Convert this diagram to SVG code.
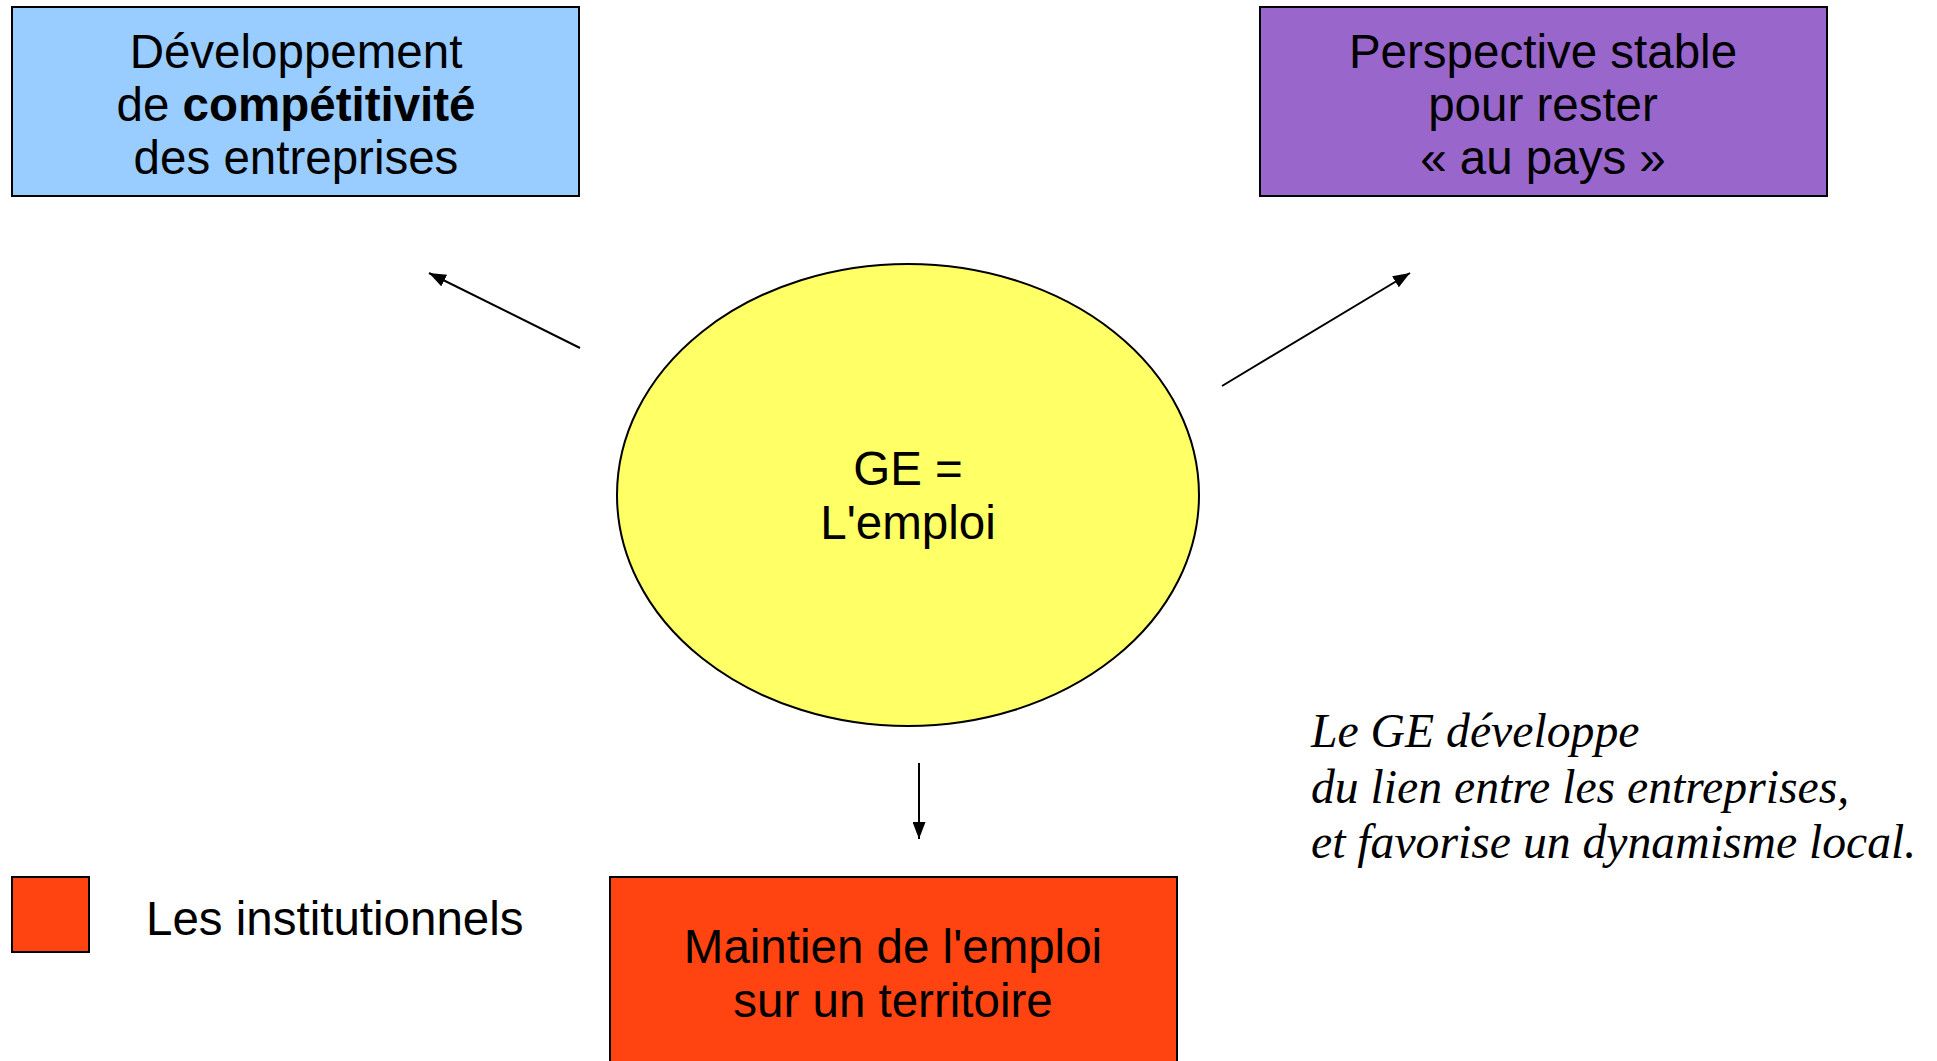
<svg xmlns="http://www.w3.org/2000/svg" width="1937" height="1061" viewBox="0 0 1937 1061">
<style>
.box{stroke:#000;stroke-width:2}
.t{font-family:"Liberation Sans",Arial,sans-serif;font-size:47.5px;fill:#000;text-anchor:middle}
.note{font-family:"Liberation Serif","Times New Roman",serif;font-style:italic;font-size:47.7px;fill:#000}
.conn{stroke:#000;stroke-width:2;fill:none;marker-end:url(#ah)}
</style>
<defs>
<marker id="ah" viewBox="0 0 10 10" refX="10" refY="5" markerWidth="17" markerHeight="13" preserveAspectRatio="none" markerUnits="userSpaceOnUse" orient="auto">
<path d="M0,0 L10,5 L0,10 z" fill="#000"/>
</marker>
</defs>
<rect width="1937" height="1061" fill="#fff"/>
<g id="connectors">
<line class="conn" x1="580" y1="348" x2="429" y2="273"/>
<line class="conn" x1="1222" y1="386" x2="1410" y2="273"/>
<line class="conn" x1="919" y1="763" x2="919" y2="839"/>
</g>
<g id="node-competitivite">
<rect class="box" x="12" y="7" width="567" height="189" fill="#99ccff"/>
<text class="t" x="296" y="68">Développement</text>
<text class="t" x="296" y="121">de <tspan font-weight="bold">compétitivité</tspan></text>
<text class="t" x="296" y="174">des entreprises</text>
</g>
<g id="node-perspective">
<rect class="box" x="1260" y="7" width="567" height="189" fill="#9966cc"/>
<text class="t" x="1543" y="68">Perspective stable</text>
<text class="t" x="1543" y="121">pour rester</text>
<text class="t" x="1543" y="174">« au pays »</text>
</g>
<g id="node-ge">
<ellipse class="box" cx="908" cy="495" rx="291" ry="231" fill="#ffff66"/>
<text class="t" x="908" y="485">GE =</text>
<text class="t" x="908" y="539">L'emploi</text>
</g>
<g id="node-maintien">
<rect class="box" x="610" y="877" width="567" height="200" fill="#ff4411"/>
<text class="t" x="893" y="963">Maintien de l'emploi</text>
<text class="t" x="893" y="1017">sur un territoire</text>
</g>
<g id="legend">
<rect class="box" x="12" y="877" width="77" height="75" fill="#ff4411"/>
<text class="t" x="146" y="935" style="text-anchor:start">Les institutionnels</text>
</g>
<g id="note">
<text class="note" x="1311" y="747">Le GE développe</text>
<text class="note" x="1311" y="803">du lien entre les entreprises,</text>
<text class="note" x="1311" y="858">et favorise un dynamisme local.</text>
</g>
</svg>
